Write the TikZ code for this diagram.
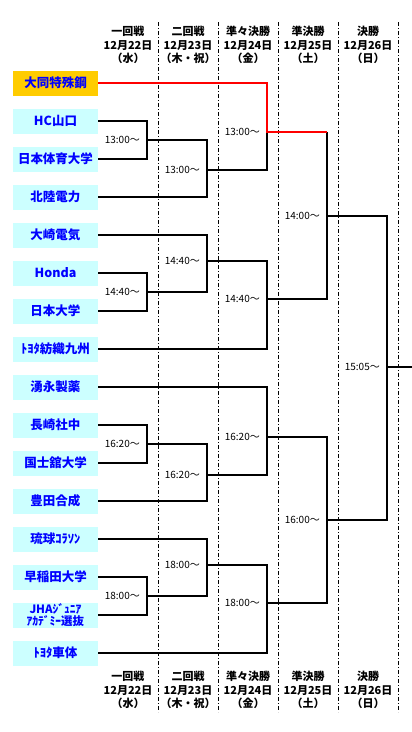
\documentclass[tikz,border=0pt]{standalone}
\usepackage{fontspec}
\setmainfont{Noto Sans CJK JP}
\usepackage{xcolor}
\usepackage{tikz}
\definecolor{teamcyan}{RGB}{204, 255, 255}
\definecolor{seedgold}{RGB}{255, 204,   0}
\definecolor{teamblue}{RGB}{  0,   0, 255}
\definecolor{winred}{RGB}{255,   0,   0}

\begin{document}
\begin{tikzpicture}[
  x=1pt, y=-1pt,
  team/.style={fill=teamcyan, minimum width=85pt, minimum height=25pt, inner sep=0pt,
               text=teamblue, font=\fontsize{12.5}{14}\selectfont\bfseries},
  seed/.style={team, fill=seedgold},
  day/.style={align=center, font=\fontsize{11}{13.5}\selectfont\bfseries},
  time/.style={anchor=east, xshift=-7pt, inner sep=0pt, font=\fontsize{10}{12}\selectfont},
  dayline/.style={line width=1pt, dash pattern=on 4pt off 2pt on 1pt off 2pt},
  bracket/.style={line width=2.8pt},
  winner/.style={line width=2.5pt, color=winred}
]
  \useasboundingbox (0,0) rectangle (412,732);

  \draw[dayline] (158,22) -- (158,712);
  \draw[dayline] (218,22) -- (218,712);
  \draw[dayline] (278,22) -- (278,712);
  \draw[dayline] (338,22) -- (338,712);
  \draw[dayline] (398,22) -- (398,712);

  \node[day] (h1) at (128,45) {一回戦\\12月22日\\（水）};
  \node[day] (h2) at (188,45) {二回戦\\12月23日\\（木・祝）};
  \node[day] (h3) at (248,45) {準々決勝\\12月24日\\（金）};
  \node[day] (h4) at (308,45) {準決勝\\12月25日\\（土）};
  \node[day] (h5) at (368,45) {決勝\\12月26日\\（日）};

  \node[day] (b1) at (128,690) {一回戦\\12月22日\\（水）};
  \node[day] (b2) at (188,690) {二回戦\\12月23日\\（木・祝）};
  \node[day] (b3) at (248,690) {準々決勝\\12月24日\\（金）};
  \node[day] (b4) at (308,690) {準決勝\\12月25日\\（土）};
  \node[day] (b5) at (368,690) {決勝\\12月26日\\（日）};

  \node[seed] (daido)    at (55.5,83)  {大同特殊鋼};
  \node[team] (hc)       at (55.5,121) {HC山口};
  \node[team] (nittai)   at (55.5,159) {日本体育大学};
  \node[team] (hokuriku) at (55.5,197) {北陸電力};
  \node[team] (osaki)    at (55.5,235) {大崎電気};
  \node[team] (honda)    at (55.5,273) {Honda};
  \node[team] (nichidai) at (55.5,311) {日本大学};
  \node[team] (kyushu)   at (55.5,349) {ﾄﾖﾀ紡織九州};
  \node[team] (wakunaga) at (55.5,387) {湧永製薬};
  \node[team] (nagasaki) at (55.5,425) {長崎社中};
  \node[team] (kokushi)  at (55.5,463) {国士舘大学};
  \node[team] (toyoda)   at (55.5,501) {豊田合成};
  \node[team] (ryukyu)   at (55.5,539) {琉球ｺﾗｿﾝ};
  \node[team] (waseda)   at (55.5,577) {早稲田大学};
  \node[team, align=center, font=\fontsize{11.5}{12.5}\selectfont\bfseries] (jha) at (55.5,615) {JHAｼﾞｭﾆｱ\\ｱｶﾃﾞﾐｰ選抜};
  \node[team] (shatai)   at (55.5,653) {ﾄﾖﾀ車体};

  \coordinate (r1a) at (147,140);
  \coordinate (r2a) at (207,170);
  \coordinate (q1)  at (267,132);
  \coordinate (r1b) at (147,292);
  \coordinate (r2b) at (207,261);
  \coordinate (q2)  at (267,299);
  \coordinate (s1)  at (327,216);
  \coordinate (r1c) at (147,444);
  \coordinate (r2c) at (207,475);
  \coordinate (q3)  at (267,437);
  \coordinate (r1d) at (147,596);
  \coordinate (r2d) at (207,565);
  \coordinate (q4)  at (267,603);
  \coordinate (s2)  at (327,520);
  \coordinate (fin) at (387,367);
  \coordinate (out) at (412,367);

  \draw[bracket] (hc.east) -| (r1a) |- (nittai.east);
  \draw[bracket] (r1a) -| (r2a) |- (hokuriku.east);
  \draw[bracket] (r2a) -| (q1);
  \draw[bracket] (honda.east) -| (r1b) |- (nichidai.east);
  \draw[bracket] (osaki.east) -| (r2b) |- (r1b);
  \draw[bracket] (r2b) -| (q2) |- (kyushu.east);
  \draw[bracket] (q1 -| s1) -- (s1) |- (q2);

  \draw[bracket] (nagasaki.east) -| (r1c) |- (kokushi.east);
  \draw[bracket] (r1c) -| (r2c) |- (toyoda.east);
  \draw[bracket] (wakunaga.east) -| (q3) |- (r2c);
  \draw[bracket] (waseda.east) -| (r1d) |- (jha.east);
  \draw[bracket] (ryukyu.east) -| (r2d) |- (r1d);
  \draw[bracket] (r2d) -| (q4) |- (shatai.east);
  \draw[bracket] (q3) -| (s2) |- (q4);

  \draw[bracket] (s1) -| (fin) |- (s2);
  \draw[bracket] (fin) -- (out);
  \draw[winner] (daido.east) -| (q1) -- (q1 -| s1);

  \node[time] (t1)  at (r1a) {13:00〜};
  \node[time] (t2)  at (r2a) {13:00〜};
  \node[time] (t3)  at (q1)  {13:00〜};
  \node[time] (t4)  at (r1b) {14:40〜};
  \node[time] (t5)  at (r2b) {14:40〜};
  \node[time] (t6)  at (q2)  {14:40〜};
  \node[time] (t7)  at (s1)  {14:00〜};
  \node[time] (t8)  at (r1c) {16:20〜};
  \node[time] (t9)  at (r2c) {16:20〜};
  \node[time] (t10) at (q3)  {16:20〜};
  \node[time] (t11) at (r1d) {18:00〜};
  \node[time] (t12) at (r2d) {18:00〜};
  \node[time] (t13) at (q4)  {18:00〜};
  \node[time] (t14) at (s2)  {16:00〜};
  \node[time] (t15) at (fin) {15:05〜};
\end{tikzpicture}
\end{document}
